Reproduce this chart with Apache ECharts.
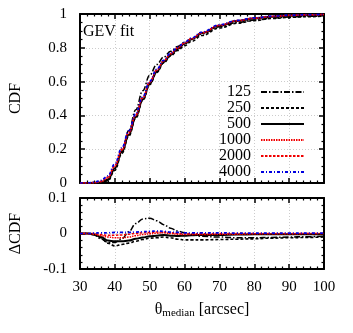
<!DOCTYPE html>
<html>
<head>
<meta charset="utf-8">
<script src="https://cdn.jsdelivr.net/npm/echarts@6/dist/echarts.min.js"></script>
<style>
html, body { margin: 0; padding: 0; background: #fff; }
#chart { width: 353px; height: 333px; }
</style>
</head>
<body>
<div id="chart"></div>
<script>
// theta_median grid (arcsec)
const theta = [30, 32, 34, 36, 38, 40, 42, 44, 46, 48, 50, 52, 54, 56, 58, 60, 62, 65, 70, 75, 80, 85, 90, 95, 100];
const sizes = ["125", "250", "500", "1000", "2000", "4000"];

// CDF (top panel)
const cdf125 = [0, 0, 0, 0, 0.015, 0.085, 0.19, 0.31, 0.433, 0.546, 0.638, 0.701, 0.745, 0.779, 0.807, 0.832, 0.853, 0.883, 0.924, 0.949, 0.964, 0.975, 0.982, 0.986, 0.989];
const cdf250 = [0, 0, 0, 0.001, 0.013, 0.075, 0.174, 0.278, 0.383, 0.488, 0.582, 0.653, 0.71, 0.752, 0.784, 0.812, 0.838, 0.873, 0.917, 0.945, 0.961, 0.973, 0.98, 0.984, 0.987];
const cdf500 = [0, 0, 0.001, 0.003, 0.02, 0.088, 0.183, 0.285, 0.39, 0.494, 0.587, 0.659, 0.716, 0.758, 0.793, 0.824, 0.851, 0.887, 0.93, 0.958, 0.974, 0.984, 0.99, 0.993, 0.995];
const cdf1000 = [0, 0, 0.001, 0.007, 0.03, 0.098, 0.193, 0.295, 0.399, 0.502, 0.594, 0.666, 0.722, 0.764, 0.798, 0.827, 0.853, 0.888, 0.932, 0.959, 0.975, 0.985, 0.991, 0.995, 0.997];
const cdf2000 = [0, 0, 0.003, 0.01, 0.035, 0.105, 0.201, 0.303, 0.405, 0.507, 0.598, 0.669, 0.724, 0.766, 0.80, 0.829, 0.855, 0.89, 0.934, 0.961, 0.976, 0.986, 0.992, 0.995, 0.997];
const cdf4000 = [0, 0, 0.004, 0.015, 0.042, 0.113, 0.208, 0.308, 0.409, 0.51, 0.601, 0.672, 0.726, 0.768, 0.803, 0.832, 0.858, 0.893, 0.936, 0.962, 0.977, 0.987, 0.993, 0.996, 0.998];

// delta CDF (bottom panel)
const dcdf125 = [0, 0, -0.004, -0.015, -0.025, -0.025, -0.015, 0.005, 0.028, 0.041, 0.043, 0.036, 0.025, 0.015, 0.007, 0.002, -0.003, -0.008, -0.01, -0.012, -0.012, -0.011, -0.01, -0.009, -0.008];
const dcdf250 = [0, 0, -0.003, -0.012, -0.027, -0.035, -0.031, -0.027, -0.022, -0.017, -0.013, -0.012, -0.01, -0.012, -0.016, -0.018, -0.018, -0.018, -0.017, -0.016, -0.015, -0.013, -0.012, -0.011, -0.01];
const dcdf500 = [0, 0, -0.002, -0.01, -0.02, -0.022, -0.022, -0.02, -0.015, -0.011, -0.008, -0.006, -0.004, -0.006, -0.007, -0.006, -0.005, -0.004, -0.004, -0.003, -0.002, -0.002, -0.002, -0.002, -0.002];
const dcdf1000 = [0, 0, -0.002, -0.006, -0.01, -0.012, -0.012, -0.01, -0.006, -0.003, -0.001, 0.001, 0.002, 0, -0.002, -0.003, -0.003, -0.003, -0.002, -0.002, -0.001, -0.001, -0.001, 0, 0];
const dcdf2000 = [0, 0, 0, -0.003, -0.005, -0.005, -0.004, -0.002, 0, 0.002, 0.003, 0.004, 0.004, 0.002, 0, -0.001, -0.001, -0.001, 0, 0, 0, 0, 0, 0, 0];
const dcdf4000 = [0, 0, 0.001, 0.002, 0.002, 0.003, 0.003, 0.003, 0.004, 0.005, 0.006, 0.007, 0.006, 0.004, 0.003, 0.002, 0.002, 0.002, 0.002, 0.001, 0.001, 0.001, 0.001, 0.001, 0.001];

const cdfAll = [cdf125, cdf250, cdf500, cdf1000, cdf2000, cdf4000];
const dcdfAll = [dcdf125, dcdf250, dcdf500, dcdf1000, dcdf2000, dcdf4000];

const lineStyles = [
  { color: "#000", type: [6, 2, 1.5, 2], width: 1.5 },
  { color: "#000", type: [3, 2], width: 1.6 },
  { color: "#000", type: "solid", width: 2 },
  { color: "#f00000", type: [1.5, 1], width: 1.5 },
  { color: "#f00000", type: [2.5, 1.5], width: 1.5 },
  { color: "#0000e0", type: [3, 2, 1, 2], width: 1.7 }
];

const FONT = "Liberation Serif";

function xAx(grid, pos, labels) {
  return {
    type: "value", gridIndex: grid, position: pos, min: 30, max: 100, interval: 10,
    axisLine: { show: true, onZero: false, lineStyle: { color: "#000", width: 2 } },
    axisTick: { show: true, inside: true, length: 5, lineStyle: { color: "#000", width: 1.5 } },
    minorTick: { show: true, splitNumber: 5, length: 2.5, lineStyle: { color: "#000", width: 1.2 } },
    axisLabel: { show: labels, margin: 11, color: "#000", fontFamily: FONT, fontSize: 15 },
    splitLine: { show: pos === "bottom", lineStyle: { color: "#ccc", type: [1, 2], width: 1 } },
    name: labels ? "{t|θ}{s|median}{t| [arcsec]}" : "",
    nameLocation: "middle", nameGap: 31,
    nameTextStyle: {
      rich: {
        t: { fontFamily: FONT, fontSize: 16, color: "#000" },
        s: { fontFamily: FONT, fontSize: 11, color: "#000", verticalAlign: "bottom", padding: [8, 0, 0, 0] }
      }
    }
  };
}

function yAx(grid, pos, labels, min, max, interval, minor, name) {
  return {
    type: "value", gridIndex: grid, position: pos, min: min, max: max, interval: interval,
    axisLine: { show: true, onZero: false, lineStyle: { color: "#000", width: 2 } },
    axisTick: { show: true, inside: true, length: 5, lineStyle: { color: "#000", width: 1.5 } },
    minorTick: { show: true, splitNumber: minor, length: 2.5, lineStyle: { color: "#000", width: 1.2 } },
    axisLabel: { show: labels, margin: 13, color: "#000", fontFamily: FONT, fontSize: 15 },
    splitLine: { show: pos === "left", lineStyle: { color: "#ccc", type: [1, 2], width: 1 } },
    name: labels ? name : "",
    nameLocation: "middle", nameGap: 56, nameRotate: 90,
    nameTextStyle: { fontFamily: FONT, fontSize: 16, color: "#000" }
  };
}

const series = [];
sizes.forEach(function (s, i) {
  series.push({
    name: s, type: "line", xAxisIndex: 0, yAxisIndex: 0, symbol: "none",
    smooth: 0.4, smoothMonotone: "x", lineStyle: lineStyles[i], itemStyle: { color: lineStyles[i].color },
    data: theta.map(function (t, k) { return [t, cdfAll[i][k]]; })
  });
  series.push({
    name: s, type: "line", xAxisIndex: 2, yAxisIndex: 2, symbol: "none",
    smooth: 0.4, smoothMonotone: "x", lineStyle: lineStyles[i], itemStyle: { color: lineStyles[i].color },
    data: theta.map(function (t, k) { return [t, dcdfAll[i][k]]; })
  });
});

const chart = echarts.init(document.getElementById("chart"));
chart.setOption({
  animation: false,
  backgroundColor: "#fff",
  grid: [
    { left: 76, right: 29, top: 14, height: 169 },
    { left: 76, right: 29, top: 198, height: 71 }
  ],
  xAxis: [
    xAx(0, "bottom", false), xAx(0, "top", false),
    xAx(1, "bottom", true), xAx(1, "top", false)
  ],
  yAxis: [
    yAx(0, "left", true, 0, 1, 0.2, 4, "CDF"), yAx(0, "right", false, 0, 1, 0.2, 4, ""),
    yAx(1, "left", true, -0.1, 0.1, 0.1, 5, "ΔCDF"), yAx(1, "right", false, -0.1, 0.1, 0.1, 5, "")
  ],
  legend: sizes.map(function (s, i) {
    return {
      data: [s], orient: "vertical", align: "right", right: 48, top: 84 + 16 * i,
      padding: 0, itemWidth: 43, itemHeight: 12, selectedMode: false,
      itemStyle: { opacity: 0 },
      textStyle: { fontFamily: FONT, fontSize: 16, color: "#000", padding: [0, 5, 0, 0] }
    };
  }),
  graphic: [
    { type: "text", left: 83, top: 24, style: { text: "GEV fit", font: '16px "Liberation Serif"', fill: "#000" } }
  ],
  series: series
});
</script>
</body>
</html>
